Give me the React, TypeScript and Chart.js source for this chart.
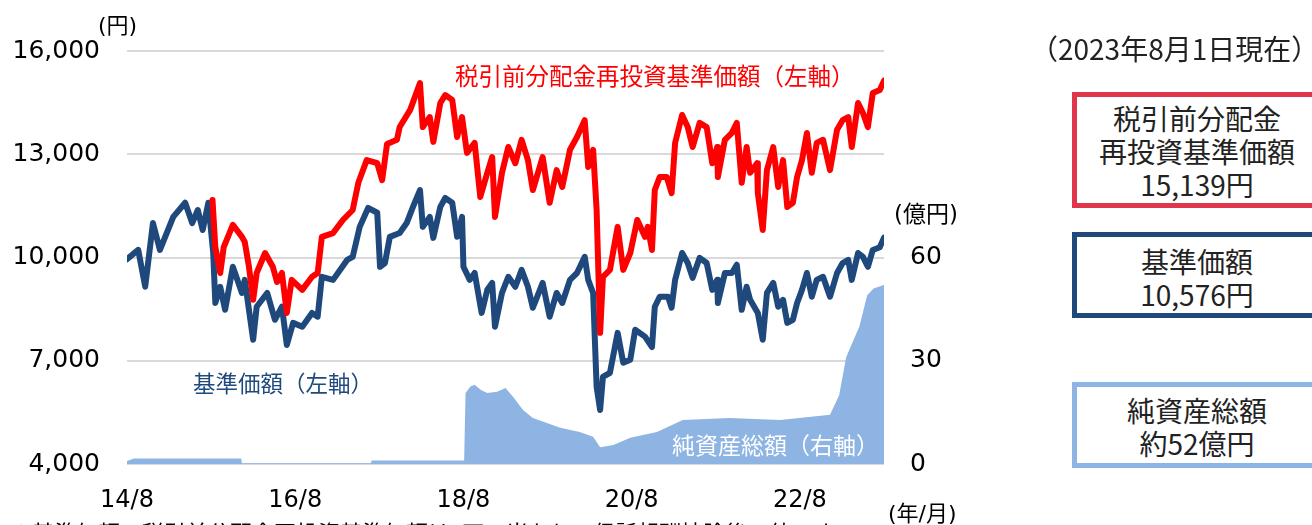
import React, { useEffect, useRef } from 'react';
import { Chart, registerables } from 'chart.js';

Chart.register(...registerables);

// x values: months elapsed since 2014/8
const navX = [
  0, 1.6, 2.6, 3.7, 4.7, 6.6, 8.3, 9.3, 10.1, 10.8,
  11.6, 12.3, 12.6, 13.3, 14.0, 15.1, 16.4, 16.8, 18.0, 18.5,
  20.0, 21.1, 22.1, 22.8, 23.7, 25.0, 26.4, 27.2, 27.8, 29.4,
  31.4, 32.2, 33.2, 34.4, 35.7, 36.1, 36.8, 37.5, 38.9, 39.9,
  40.8, 41.8, 42.2, 43.2, 43.7, 44.7, 45.4, 46.4, 47.1, 47.8,
  48.0, 48.9, 49.6, 50.6, 51.4, 52.1, 52.5, 53.5, 54.4, 55.4,
  56.3, 57.2, 57.9, 59.3, 60.3, 61.3, 62.1, 63.2, 64.2, 65.3,
  65.8, 66.5, 67.0, 67.5, 67.9, 68.9, 70.0, 70.8, 71.8, 72.5,
  73.9, 74.9, 75.3, 76.0, 77.2, 77.7, 78.2, 79.2, 80.0, 80.7,
  81.7, 82.7, 83.5, 84.2, 84.3, 85.3, 86.3, 87.0, 87.7, 88.4,
  88.9, 90.0, 90.7, 91.3, 92.2, 92.9, 93.6, 94.2, 95.0, 95.6,
  96.3, 97.0, 97.7, 98.4, 99.3, 100.3, 101.3, 102.1, 102.9, 103.4,
  104.3, 105.0, 105.7, 106.4, 107.4, 108.0,
];
// 基準価額 (円)
const navY = [
  9950, 10220, 9150, 11000, 10220, 11180, 11590, 11000, 11380, 10800,
  11590, 10130, 8680, 9150, 8480, 9730, 8970, 9350, 7610, 8570,
  8970, 8190, 8570, 7460, 8100, 7990, 8390, 8280, 9440, 9350,
  9930, 10020, 10890, 11440, 11300, 9730, 9840, 10600, 10710, 11000,
  11470, 11960, 10890, 11180, 10570, 11470, 11730, 11590, 10600, 11180,
  9730, 9350, 9550, 8390, 9060, 9260, 7990, 8970, 9440, 9150,
  9640, 9150, 8540, 9260, 8280, 8970, 8680, 9350, 9550, 10020,
  9350, 8970, 6240, 5570, 6530, 6650, 7810, 6940, 7030, 7900,
  7700, 7400, 8570, 8860, 8860, 8540, 9350, 10130, 9840, 9410,
  9990, 9840, 9060, 9350, 8680, 9550, 9550, 9790, 8480, 9150,
  8770, 8390, 7610, 8970, 9260, 8570, 8770, 8100, 8190, 8680,
  9060, 9550, 8860, 9350, 9440, 8860, 9550, 9840, 9930, 9350,
  10130, 10020, 9730, 10220, 10300, 10576,
];

const reinvX = [
  12.2, 12.6, 13.3, 13.8, 15.1, 16.4, 16.8, 17.4, 18.0, 18.5,
  19.7, 20.8, 21.4, 22.1, 22.8, 23.5, 25.0, 26.4, 27.2, 27.8,
  29.4, 30.8, 32.2, 33.0, 34.2, 35.7, 36.4, 37.1, 38.5, 38.9,
  40.4, 41.8, 42.2, 43.2, 43.7, 44.7, 45.4, 46.4, 47.1, 47.8,
  48.5, 49.6, 50.4, 51.4, 52.1, 52.5, 53.5, 54.4, 55.4, 56.3,
  57.2, 57.9, 59.3, 60.3, 61.3, 62.1, 63.2, 64.2, 65.3, 65.8,
  66.5, 67.0, 67.5, 67.9, 68.9, 70.0, 70.8, 71.8, 72.8, 73.9,
  74.3, 74.9, 75.3, 76.0, 77.0, 77.7, 78.2, 79.2, 80.0, 80.7,
  81.7, 82.7, 83.5, 84.2, 84.3, 85.3, 86.3, 87.0, 87.7, 88.4,
  88.9, 89.9, 90.0, 90.7, 91.3, 92.2, 92.9, 93.6, 94.2, 95.0,
  95.6, 96.3, 97.0, 97.7, 98.4, 99.3, 100.3, 101.3, 102.1, 102.9,
  103.4, 104.3, 105.0, 105.7, 106.4, 107.4, 108.0,
];
// 税引前分配金再投資基準価額 (円)
const reinvY = [
  11670, 10300, 9550, 10300, 10950, 10600, 10450, 9730, 8770, 9550,
  10130, 9730, 9290, 9550, 8390, 9350, 9060, 9440, 9550, 10600,
  10710, 11090, 11380, 12170, 12830, 12740, 12250, 13300, 13420, 13790,
  14290, 15070, 13790, 14080, 13360, 14490, 14720, 14580, 13500, 14080,
  13040, 13330, 11760, 12460, 12920, 11180, 12460, 13210, 12740, 13420,
  12830, 11960, 12920, 11590, 12540, 12050, 13130, 13500, 13990, 12630,
  13130, 11380, 7810, 9440, 9640, 10890, 9640, 10130, 11090, 10600,
  10890, 10220, 11960, 12340, 12340, 11870, 13330, 14140, 13790, 13210,
  13910, 13790, 12740, 13210, 12340, 13420, 13620, 13910, 12170, 13210,
  12460, 12740, 11870, 10800, 12540, 13210, 12050, 12830, 11470, 11590,
  12340, 12830, 13620, 12460, 13330, 13420, 12540, 13710, 13990, 14080,
  13210, 14490, 14200, 13790, 14780, 14870, 15139,
];

const assetsX = [
  0, 1.0, 16.3, 16.4, 34.8, 34.9, 48.1, 48.3, 49.0, 49.6,
  50.5, 51.4, 52.8, 54.0, 55.1, 56.5, 57.9, 59.9, 61.8, 64.6,
  66.5, 67.5, 69.4, 71.8, 75.6, 79.3, 86.0, 93.2, 100.3, 101.6,
  102.6, 104.5, 105.6, 106.5, 108.0,
];
// 純資産総額 (億円)
const assetsY = [
  0.9, 1.6, 1.6, 0.2, 0.2, 1.0, 1.0, 20.6, 22.5, 23.0,
  21.5, 20.6, 21.0, 22.1, 19.5, 15.7, 13.4, 11.9, 10.5, 9.3,
  7.9, 4.9, 5.5, 7.6, 9.3, 12.8, 13.4, 12.8, 14.3, 20.0,
  31.0, 40.0, 49.0, 51.0, 52.0,
];

const xTickMonths = [0, 24, 48, 72, 96];
const leftTicks = [4000, 7000, 10000, 13000, 16000];
const rightTicks = [0, 30, 60];

const AXIS_FONT = '"DejaVu Sans", "Noto Sans CJK JP", sans-serif';
const JP_FONT = '"Noto Sans CJK JP", "DejaVu Sans", sans-serif';
const NAVY = '#1f497d';
const RED = '#ff0000';
const LIGHT = '#8db4e2';

const abs = (left: number, top: number, size: number, color: string, extra: any = {}) => ({
  position: 'absolute' as const,
  left,
  top,
  fontSize: size,
  lineHeight: `${Math.round(size * 1.2)}px`,
  color,
  fontFamily: AXIS_FONT,
  whiteSpace: 'nowrap' as const,
  ...extra,
});

export default function App() {
  const ref = useRef<HTMLCanvasElement>(null);

  useEffect(() => {
    if (!ref.current) return;
    const chart = new Chart(ref.current, {
      type: 'line',
      data: {
        datasets: [
          {
            label: '税引前分配金再投資基準価額',
            data: reinvX.map((x, i) => ({ x, y: reinvY[i] })),
            borderColor: RED,
            backgroundColor: RED,
            borderWidth: 6,
            pointRadius: 0,
            tension: 0,
            borderJoinStyle: 'round',
            borderCapStyle: 'round',
            yAxisID: 'y',
          },
          {
            label: '基準価額',
            data: navX.map((x, i) => ({ x, y: navY[i] })),
            borderColor: NAVY,
            backgroundColor: NAVY,
            borderWidth: 6,
            pointRadius: 0,
            tension: 0,
            borderJoinStyle: 'round',
            borderCapStyle: 'round',
            yAxisID: 'y',
          },
          {
            label: '純資産総額',
            data: assetsX.map((x, i) => ({ x, y: assetsY[i] })),
            borderWidth: 0,
            borderColor: LIGHT,
            backgroundColor: LIGHT,
            fill: 'origin',
            pointRadius: 0,
            tension: 0,
            yAxisID: 'y1',
          },
        ],
      },
      options: {
        animation: false,
        responsive: false,
        maintainAspectRatio: false,
        layout: { padding: { left: 0, right: 352, top: 51, bottom: 0 } },
        plugins: { legend: { display: false }, tooltip: { enabled: false } },
        scales: {
          x: {
            type: 'linear',
            min: 0,
            max: 108,
            afterBuildTicks: (s: any) => {
              s.ticks = xTickMonths.map((v) => ({ value: v }));
            },
            ticks: {
              autoSkip: false,
              maxRotation: 0,
              padding: 22,
              color: '#000',
              font: { family: AXIS_FONT, size: 24 },
              callback: (v: any) => `${14 + Number(v) / 12}/8`,
            },
            grid: { display: false, drawTicks: false },
            border: { display: false },
            afterFit: (s: any) => {
              s.height = 61;
            },
          },
          y: {
            position: 'left',
            min: 4000,
            max: 16000,
            afterBuildTicks: (s: any) => {
              s.ticks = leftTicks.map((v) => ({ value: v }));
            },
            ticks: {
              padding: 27,
              color: '#000',
              font: { family: AXIS_FONT, size: 25 },
              callback: (v: any) => Number(v).toLocaleString('en-US'),
            },
            grid: { color: '#d9d9d9', lineWidth: 2, drawTicks: false },
            border: { display: false },
            afterFit: (s: any) => {
              s.width = 127;
            },
          },
          y1: {
            position: 'right',
            min: 0,
            max: 120,
            afterBuildTicks: (s: any) => {
              s.ticks = rightTicks.map((v) => ({ value: v }));
            },
            ticks: {
              padding: 26,
              color: '#000',
              font: { family: AXIS_FONT, size: 25 },
              callback: (v: any) => String(v),
            },
            grid: { display: false, drawTicks: false },
            border: { display: false },
            afterFit: (s: any) => {
              s.width = 76;
            },
          },
        },
      },
    });
    return () => chart.destroy();
  }, []);

  const box = (top: number, height: number, color: string, padTop: number, lines: string[]) => (
    <div
      style={{
        position: 'absolute',
        left: 1072,
        top,
        width: 250,
        height,
        boxSizing: 'border-box',
        border: `5px solid ${color}`,
        background: '#fff',
        paddingTop: padTop,
        textAlign: 'center',
        fontFamily: JP_FONT,
        fontSize: 28,
        lineHeight: '33px',
        color: '#222',
      }}
    >
      {lines.map((l) => (
        <div key={l}>{l}</div>
      ))}
    </div>
  );

  return (
    <div
      style={{
        position: 'absolute',
        left: 0,
        top: 0,
        width: 1312,
        height: 525,
        overflow: 'hidden',
        background: '#fff',
      }}
    >
      <canvas ref={ref} width={1312} height={525} style={{ position: 'absolute', left: 0, top: 0, display: 'block' }} />
      <div style={abs(98, 13, 22, '#000')}>(円)</div>
      <div style={abs(894, 200, 23, '#000')}>(億円)</div>
      <div style={abs(888, 501, 22, '#000')}>(年/月)</div>
      <div style={abs(455, 61, 23.5, RED, { fontFamily: JP_FONT })}>税引前分配金再投資基準価額（左軸）</div>
      <div style={abs(193, 369, 22.5, NAVY, { fontFamily: JP_FONT })}>基準価額（左軸）</div>
      <div style={abs(672, 430, 23, '#fff', { fontFamily: JP_FONT })}>純資産総額（右軸）</div>
      <div style={abs(10, 518, 22, '#000', { fontFamily: JP_FONT })}>
        ※基準価額、税引前分配金再投資基準価額は1万口当たり、信託報酬控除後の値です。
      </div>
      <div style={abs(1030, 31, 28, '#222', { fontFamily: JP_FONT })}>（2023年8月1日現在）</div>
      {box(92, 116, '#e0364b', 5, ['税引前分配金', '再投資基準価額', '15,139円'])}
      {box(232, 86, NAVY, 8, ['基準価額', '10,576円'])}
      {box(382, 86, LIGHT, 7, ['純資産総額', '約52億円'])}
    </div>
  );
}
